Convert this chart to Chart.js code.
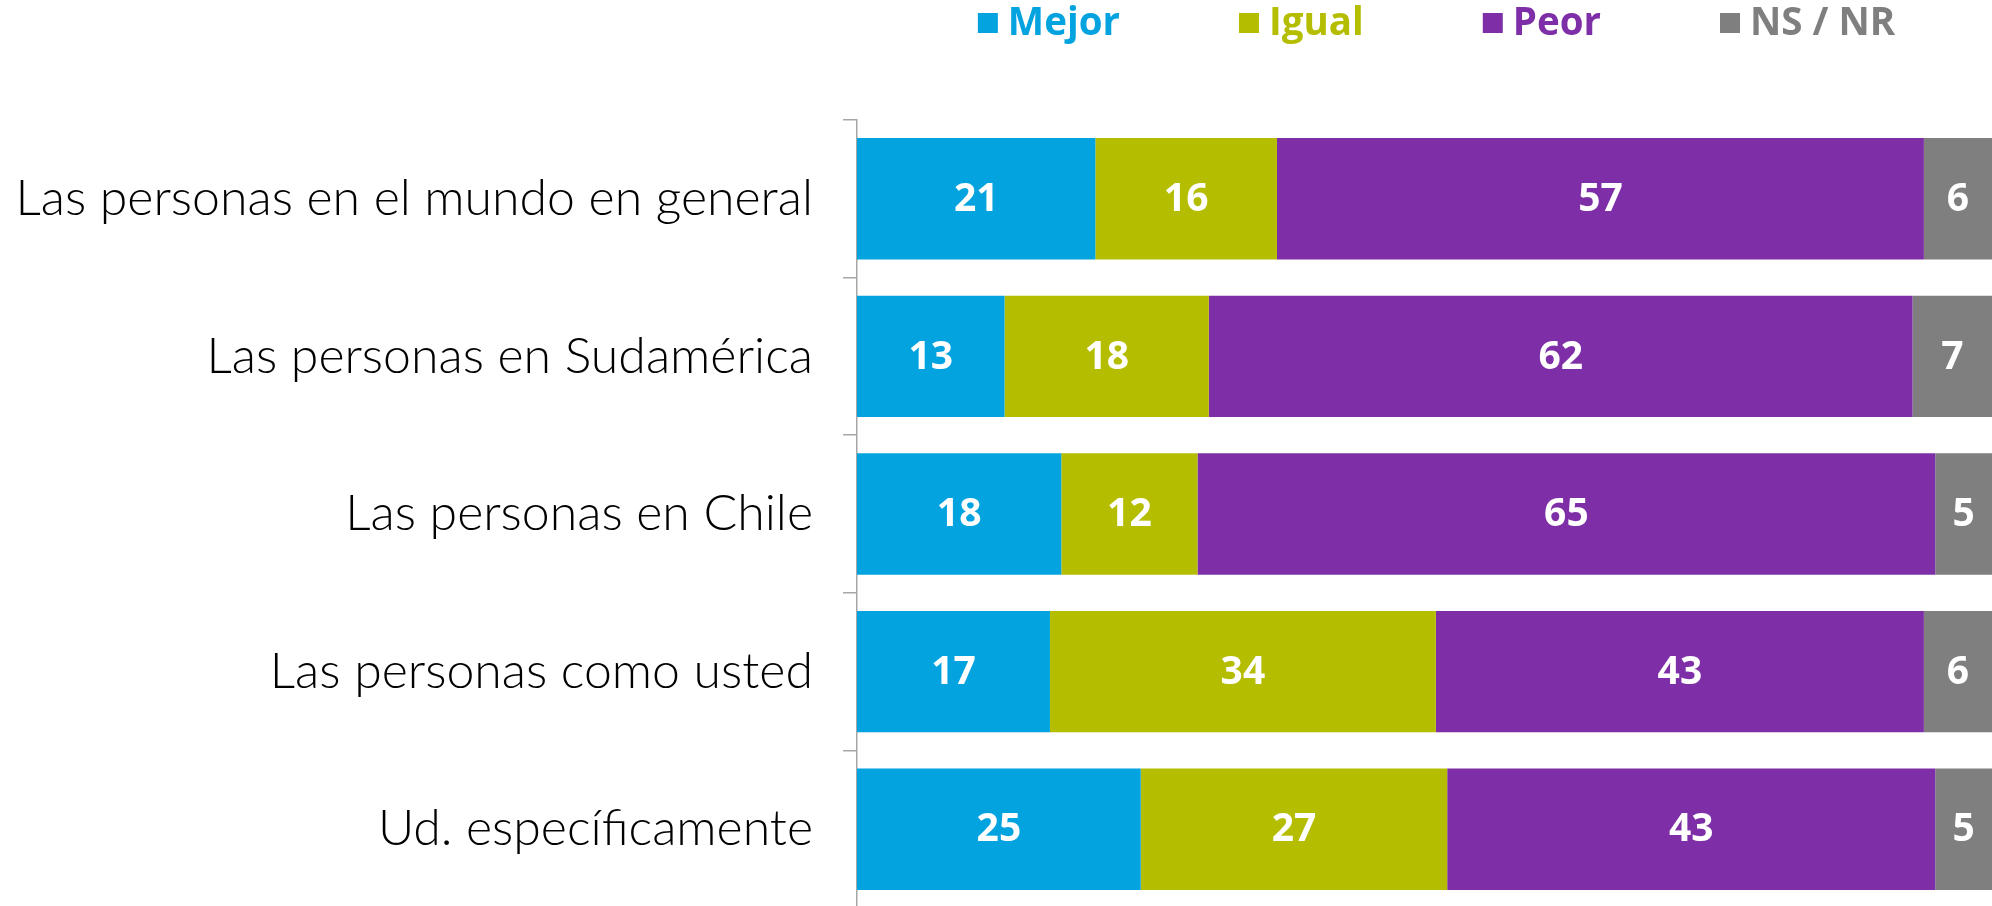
<!DOCTYPE html>
<html>
<head>
<meta charset="utf-8">
<script src="https://cdn.jsdelivr.net/npm/chart.js@4.4.1/dist/chart.umd.min.js"></script>
<style>
  html, body { margin: 0; padding: 0; background: #ffffff; overflow: hidden; }
  #wrap { width: 1992px; height: 906px; overflow: hidden; }
</style>
</head>
<body>
<div id="wrap"><canvas id="c" width="1992" height="908"></canvas></div>
<script>
const categories = [
  "Las personas en el mundo en general",
  "Las personas en Sudamérica",
  "Las personas en Chile",
  "Las personas como usted",
  "Ud. específicamente"
];
const seriesNames = ["Mejor", "Igual", "Peor", "NS / NR"];
const mejor = [21, 13, 18, 17, 25];
const igual = [16, 18, 12, 34, 27];
const peor  = [57, 62, 65, 43, 43];
const nsnr  = [6, 7, 5, 6, 5];
const seriesColors = ["#03A3E0", "#B5BD00", "#7E2FA7", "#7F7F7F"];

const LABEL_FONT = "Lato";
const BOLD_FONT = "'Open Sans', 'Noto Sans', sans-serif";

const valueLabels = {
  id: 'valueLabels',
  afterDatasetsDraw(chart) {
    const ctx = chart.ctx;
    ctx.save();
    ctx.fillStyle = '#ffffff';
    ctx.font = "700 39px " + BOLD_FONT;
    ctx.textAlign = 'center';
    ctx.textBaseline = 'middle';
    chart.data.datasets.forEach((ds, i) => {
      const meta = chart.getDatasetMeta(i);
      meta.data.forEach((bar, j) => {
        const v = ds.data[j];
        const cx = (bar.x + bar.base) / 2;
        ctx.fillText(String(v), cx, bar.y + 1);
      });
    });
    ctx.restore();
  }
};

const topLegend = {
  id: 'topLegend',
  afterDraw(chart) {
    const ctx = chart.ctx;
    const area = chart.chartArea;
    ctx.save();
    ctx.font = "700 38.5px " + BOLD_FONT;
    ctx.textBaseline = 'middle';
    const box = 20, boxGap = 10, itemGap = 119;
    const ds = chart.data.datasets;
    const widths = ds.map(d => box + boxGap + ctx.measureText(d.label).width);
    const total = widths.reduce((a, b) => a + b, 0) + itemGap * (ds.length - 1);
    let x = (area.left + area.right) / 2 + 12 - total / 2;
    const y = 23;
    ds.forEach((d, i) => {
      ctx.fillStyle = d.backgroundColor;
      ctx.fillRect(x, y - box / 2, box, box);
      ctx.fillText(d.label, x + box + boxGap, y + 1);
      x += widths[i] + itemGap;
    });
    ctx.restore();
  }
};

const seriesData = [mejor, igual, peor, nsnr];

new Chart(document.getElementById('c'), {
  type: 'bar',
  data: {
    labels: categories,
    datasets: seriesNames.map((name, i) => ({
      label: name,
      data: seriesData[i],
      backgroundColor: seriesColors[i],
      borderWidth: 0,
      categoryPercentage: 0.77,
      barPercentage: 1.0
    }))
  },
  options: {
    indexAxis: 'y',
    responsive: false,
    animation: false,
    layout: { padding: { top: 120, right: 0, bottom: 0, left: 0 } },
    plugins: {
      legend: { display: false },
      tooltip: { enabled: false },
      title: { display: false }
    },
    scales: {
      x: {
        stacked: true,
        min: 0,
        max: 100,
        display: false
      },
      y: {
        stacked: true,
        afterFit(scale) {
          scale.width = 857;
          scale.paddingTop = 0;
          scale.paddingBottom = 0;
        },
        grid: {
          offset: true,
          drawOnChartArea: false,
          drawTicks: true,
          tickLength: 14,
          color: '#A6A6A6',
          lineWidth: 1.5
        },
        border: { display: true, color: '#A6A6A6', width: 1.5 },
        ticks: {
          color: '#000000',
          padding: 30,
          font: { family: LABEL_FONT, size: 50, weight: '300' }
        }
      }
    }
  },
  plugins: [valueLabels, topLegend]
});
</script>
</body>
</html>
